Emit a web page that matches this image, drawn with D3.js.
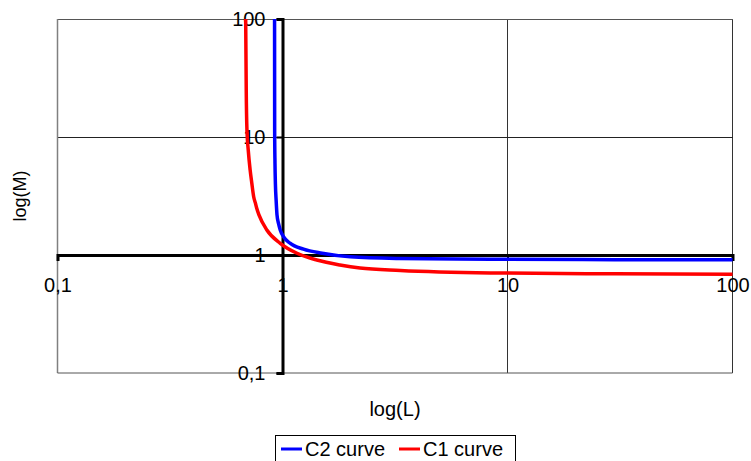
<!DOCTYPE html>
<html>
<head>
<meta charset="utf-8">
<script src="https://cdn.jsdelivr.net/npm/d3@7"></script>
<style>
  html, body { margin: 0; padding: 0; background: #fff; }
  svg { display: block; }
  text { font-family: "Liberation Sans", Arial, sans-serif; fill: #000; }
</style>
</head>
<body>
<svg id="chart" width="751" height="461"></svg>
<script>
// ---- data ----
const tickValues = [0.1, 1, 10, 100];
const tickLabels = ["0,1", "1", "10", "100"];
const gridValues = [10, 100];

const seriesNames = ["C2 curve", "C1 curve"];
const seriesColors = ["#0000ff", "#ff0000"];

// C2 curve (blue)
const c2L = [0.922, 0.9225, 0.923, 0.926, 0.93, 0.937, 0.945, 0.96, 0.977, 1.01, 1.08, 1.24, 1.5, 2.0, 3.3, 8.4, 30, 100];
const c2M = [100, 30, 11, 6, 4, 2.9, 2.2, 1.85, 1.63, 1.43, 1.26, 1.12, 1.035, 0.965, 0.935, 0.92, 0.913, 0.91];

// C1 curve (red)
const c1L = [0.686, 0.688, 0.690, 0.695, 0.704, 0.718, 0.730, 0.745, 0.758, 0.770, 0.785, 0.852, 0.977, 1.16, 1.42, 1.80, 2.21, 3.34, 8.4, 30, 100];
const c1M = [100, 50, 25, 11.4, 7.8, 5.26, 4.1, 3.1, 2.75, 2.45, 2.2, 1.63, 1.256, 1.034, 0.907, 0.823, 0.775, 0.74, 0.705, 0.692, 0.686];

const xTitle = "log(L)";
const yTitle = "log(M)";

// ---- drawing ----
const svg = d3.select("#chart");
const plot = { left: 57.5, right: 732.5, top: 19, bottom: 373 };

const x = d3.scaleLog().domain([0.1, 100]).range([plot.left, plot.right]);
const y = d3.scaleLog().domain([0.1, 100]).range([plot.bottom, plot.top]);

// gridlines
const grid = svg.append("g");
grid.selectAll("line.vx").data(gridValues).join("line")
  .attr("x1", d => x(d)).attr("x2", d => x(d))
  .attr("y1", plot.top).attr("y2", plot.bottom)
  .attr("stroke", "#333").attr("stroke-width", 1).attr("shape-rendering", "crispEdges");
grid.selectAll("line.hy").data(gridValues).join("line")
  .attr("y1", d => y(d)).attr("y2", d => y(d))
  .attr("x1", plot.left).attr("x2", plot.right)
  .attr("stroke", d => d === 100 ? "#555" : "#222").attr("stroke-width", 1).attr("shape-rendering", "crispEdges");
// left & bottom border
grid.append("line").attr("x1", plot.left).attr("x2", plot.left)
  .attr("y1", plot.top).attr("y2", plot.bottom).attr("stroke", "#808080").attr("stroke-width", 1.5);
grid.append("line").attr("x1", plot.left).attr("x2", plot.right)
  .attr("y1", plot.bottom).attr("y2", plot.bottom).attr("stroke", "#555").attr("stroke-width", 1);

const fmt = d => tickLabels[tickValues.indexOf(d)];

// x axis crossing at M = 1
const xAxis = d3.axisBottom(x).tickValues(tickValues).tickFormat(fmt)
  .tickSize(6).tickSizeOuter(6).tickPadding(17);
const gx = svg.append("g").attr("transform", `translate(0,${y(1)})`).call(xAxis);

// y axis crossing at L = 1
const yAxis = d3.axisLeft(y).tickValues(tickValues).tickFormat(fmt)
  .tickSize(6).tickSizeOuter(6).tickPadding(11);
const gy = svg.append("g").attr("transform", `translate(${x(1)},0)`).call(yAxis);

[gx, gy].forEach(g => {
  g.select(".domain").attr("stroke", "#000").attr("stroke-width", 3).attr("fill", "none");
  g.selectAll(".tick line").attr("stroke", "#000").attr("stroke-width", 2);
  g.selectAll(".tick text").attr("font-size", 20).attr("font-family", "Liberation Sans, Arial, sans-serif").attr("fill", "#000");
});
// put labels below the axis lines (as in reference)
gx.selectAll(".tick text").lower();
gy.selectAll(".tick text").lower();
gx.lower(); grid.lower();

// curves
const line = d3.line().x(d => x(d[0])).y(d => y(d[1])).curve(d3.curveMonotoneX);
const series = [
  { pts: d3.zip(c2L, c2M), color: seriesColors[0] },
  { pts: d3.zip(c1L, c1M), color: seriesColors[1] }
];
svg.append("g").selectAll("path").data(series).join("path")
  .attr("d", d => line(d.pts))
  .attr("fill", "none")
  .attr("stroke", d => d.color)
  .attr("stroke-width", 3.5)
  .attr("stroke-linejoin", "round");

// axis titles
svg.append("text").attr("x", 395).attr("y", 416).attr("text-anchor", "middle")
  .attr("font-size", 20).text(xTitle);
svg.append("text").attr("transform", "translate(26,196) rotate(-90)")
  .attr("text-anchor", "middle").attr("font-size", 18).text(yTitle);

// legend
const lg = svg.append("g");
lg.append("rect").attr("x", 275.5).attr("y", 435.5).attr("width", 240).attr("height", 40)
  .attr("fill", "#fff").attr("stroke", "#000").attr("stroke-width", 1);
const itemX = [281, 399];
seriesNames.forEach((name, i) => {
  lg.append("line").attr("x1", itemX[i]).attr("x2", itemX[i] + 21)
    .attr("y1", 449).attr("y2", 449).attr("stroke", seriesColors[i]).attr("stroke-width", 3);
  lg.append("text").attr("x", itemX[i] + 24).attr("y", 456).attr("font-size", 20).text(name);
});
</script>
</body>
</html>
